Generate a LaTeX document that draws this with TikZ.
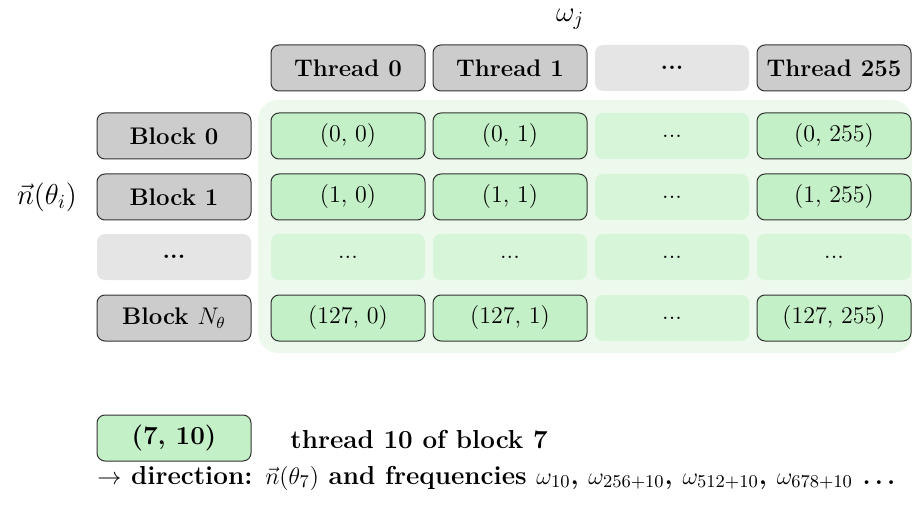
\documentclass[12pt,tikz,border=0pt]{standalone}
\usepackage{amsmath, amssymb}
\usepackage{xcolor}
\usepackage{tikz}
\definecolor{boxGray}{RGB}{204, 204, 204}
\definecolor{dotsGray}{RGB}{229, 229, 229}
\definecolor{cellGreen}{RGB}{195, 240, 198}
\definecolor{dotsGreen}{RGB}{215, 245, 217}
\definecolor{gridGreen}{RGB}{236, 249, 236}

\tikzset{
  box/.style={rounded corners=4pt, minimum width=77pt, minimum height=23pt, inner sep=0pt},
  graybox/.style={box, draw=black!80, line width=0.5pt, fill=boxGray, font=\bfseries},
  grayempty/.style={box, fill=dotsGray, font=\bfseries},
  cellbox/.style={box, draw=black!80, line width=0.5pt, fill=cellGreen},
  cellempty/.style={box, fill=dotsGreen},
  legendtext/.style={anchor=west, inner sep=0pt, font=\fontsize{13pt}{15pt}\selectfont\bfseries}
}

\begin{document}
\begin{tikzpicture}[x=0.5pt, y=-0.5pt]
					\useasboundingbox (0, 0) rectangle (913, 507);

					% Green area holding all threads
					\fill[gridGreen, rounded corners=10pt] (258, 100) rectangle (912, 353);

					% Axis labels
					\node[inner sep=0pt] (omega) at (570, 19) {\large $\omega_j$};
					\node[inner sep=0pt] (dir) at (47, 197) {\large $\vec{n}(\theta_i)$};

					% Threads (columns)
					\node[graybox] (t0) at (348, 68) {Thread 0};
					\node[graybox] (t1) at (510, 68) {Thread 1};
					\node[grayempty] (tdots) at (672, 68) {...};
					\node[graybox] (t255) at (834, 68) {Thread 255};

					% Blocks (rows)
					\node[graybox] (b0) at (174, 136) {Block 0};
					\node[graybox] (b1) at (174, 197) {Block 1};
					\node[grayempty] (bdots) at (174, 257) {...};
					\node[graybox] (bN) at (174, 318) {Block $N_\theta$};

					% Cells (block, thread)
					\foreach \r/\ry in {0/136, 1/197, 127/318} {
						\node[cellbox] (c\r-0) at (348, \ry) {(\r, 0)};
						\node[cellbox] (c\r-1) at (510, \ry) {(\r, 1)};
						\node[cellempty] (c\r-dots) at (672, \ry) {...};
						\node[cellbox] (c\r-255) at (834, \ry) {(\r, 255)};
					}
					\foreach \c/\cx in {0/348, 1/510, dots/672, 255/834}
						\node[cellempty] (cdots-\c) at (\cx, 257) {...};

					% Example
					\node[cellbox, font=\fontsize{13pt}{15pt}\selectfont\bfseries] (ex) at (174, 438) {(7, 10)};
					\node[legendtext] (exlabel) at (290, 440) {thread 10 of block 7};
					\node[legendtext] (exinfo) at (97, 478)
						{$\rightarrow$ direction: $\vec{n}(\theta_7)$ and frequencies $\omega_{10}$, $\omega_{256+10}$, $\omega_{512+10}$, $\omega_{678+10}$ {\boldmath$\ldots$}};
				\end{tikzpicture}
\end{document}
